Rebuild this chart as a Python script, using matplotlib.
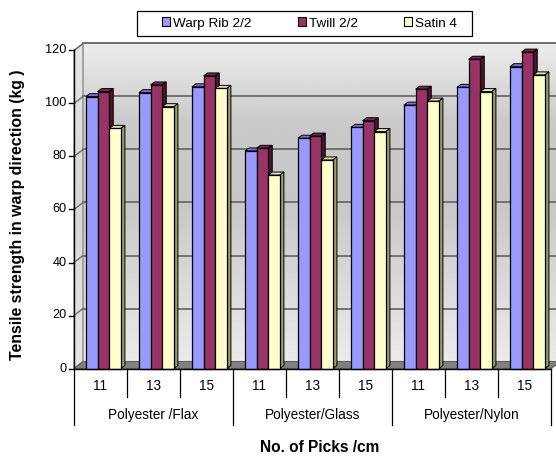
import numpy as np
import matplotlib
matplotlib.use("Agg")
import matplotlib.pyplot as plt
from matplotlib.patches import Polygon, Patch, Rectangle

plt.rcParams['font.family'] = ['Liberation Sans', 'DejaVu Sans']

# ---- data -------------------------------------------------------------
groups = ["Polyester /Flax", "Polyester/Glass", "Polyester/Nylon"]
picks = ["11", "13", "15"]
series_names = ["Warp Rib 2/2", "Twill 2/2", "Satin 4"]
warp_rib = [102.6, 104.1, 106.3, 82.1, 86.9, 91.0, 99.4, 106.1, 113.9]
twill = [104.5, 107.0, 110.4, 83.1, 87.7, 93.5, 105.4, 116.7, 119.4]
satin = [90.6, 98.8, 105.7, 73.0, 78.7, 89.4, 100.9, 104.5, 110.8]
y_ticks = [0, 20, 40, 60, 80, 100, 120]

series = [warp_rib, twill, satin]
front_cols = ["#9999FF", "#993366", "#FFFFCC"]
top_cols = ["#7373d6", "#7a2650", "#e3e3b0"]
side_cols = ["#5c5c9e", "#4f1332", "#9a9a6c"]

# ---- figure: one full-size axes, 53 px per category slot, 2.65 px per unit
W, H = 556, 457
fig = plt.figure(figsize=(W / 100, H / 100), dpi=100)
ax = fig.add_axes([0, 0, 1, 1])
x0px, y0px, sx, sy = 74.0, 368.5, 53.0, 2.65
ax.set_xlim((0 - x0px) / sx, (W - x0px) / sx)
ax.set_ylim((y0px - H) / sy, y0px / sy)
ax.axis("off")

n = len(warp_rib)
ymax = 120
dx, dy = 9 / sx, 7 / sy          # wall depth
bdx, bdy = 4 / sx, 3 / sy        # bar depth

# back wall with vertical gradient
levels = np.linspace(0, 1, 256)
shade = np.interp(levels, [0, 0.25, 0.5, 0.75, 1.0], [0.92, 0.85, 0.78, 0.79, 0.93])
img = np.repeat(shade[:, None], 2, axis=1)
back = Polygon([(dx, dy), (n + dx, dy), (n + dx, ymax + dy), (dx, ymax + dy)],
               closed=True, facecolor="none", edgecolor="#a0a0a0", lw=1.2, zorder=1)
ax.add_patch(back)
im = ax.imshow(img, cmap="gray", vmin=0, vmax=1, origin="lower", aspect="auto",
               extent=[dx, n + dx, dy, ymax + dy], zorder=0.5, interpolation="bilinear")
im.set_clip_path(back)

# left side wall
side = Polygon([(0, 0), (dx, dy), (dx, ymax + dy), (0, ymax)], closed=True,
               facecolor="none", edgecolor="#a0a0a0", lw=1.0, zorder=1)
ax.add_patch(side)
shade2 = np.interp(levels, [0, 0.5, 1.0], [0.90, 0.84, 0.90])
im2 = ax.imshow(np.repeat(shade2[:, None], 2, axis=1), cmap="gray", vmin=0, vmax=1,
                origin="lower", aspect="auto", extent=[0, dx, 0, ymax + dy],
                zorder=0.5, interpolation="bilinear")
im2.set_clip_path(side)

# gridlines on walls
for v in y_ticks[1:]:
    ax.plot([dx, n + dx], [v + dy, v + dy], color="#6a6a6a", lw=1.3, zorder=1.5)
    ax.plot([0, dx], [v, v + dy], color="#6a6a6a", lw=1.0, zorder=1.5)

# floor
ax.add_patch(Polygon([(0, 0), (n, 0), (n + dx, dy), (dx, dy)], closed=True,
                     facecolor="#808080", edgecolor="#606060", lw=0.8, zorder=2))

# bars with top and side faces
bw = 0.22
first = 0.225
xs = np.arange(n)
for k, (vals, fc, tc, sc) in enumerate(zip(series, front_cols, top_cols, side_cols)):
    left = xs + first + k * bw
    z = 3 + k
    ax.bar(left, vals, width=bw, align="edge", color=fc, edgecolor="black",
           lw=0.9, zorder=z + 0.2)
    for xl, v in zip(left, vals):
        ax.add_patch(Polygon([(xl, v), (xl + bw, v), (xl + bw + bdx, v + bdy),
                              (xl + bdx, v + bdy)], closed=True, facecolor=tc,
                             edgecolor="black", lw=0.7, zorder=z))
        ax.add_patch(Polygon([(xl + bw, 0), (xl + bw + bdx, bdy),
                              (xl + bw + bdx, v + bdy), (xl + bw, v)], closed=True,
                             facecolor=sc, edgecolor="black", lw=0.7, zorder=z))

# value axis
ax.plot([0, 0], [0, ymax], color="black", lw=1.0, zorder=10)
tick_len = 5 / sx
for v in y_ticks:
    ax.plot([-tick_len, 0], [v, v], color="black", lw=1.0, zorder=10)
    ax.text(-tick_len - 2.5 / sx, v, str(v), ha="right", va="center", fontsize=9.2,
            color="black")

# category axis with two-level labels
ax.plot([0, n], [0, 0], color="black", lw=1.0, zorder=10)
ax.plot([n, n + dx], [0, dy], color="#606060", lw=0.8, zorder=10)
short_len = (397 - y0px) / sy
long_len = (425 - y0px) / sy
for i in range(n + 1):
    depth = long_len if i % 3 == 0 else short_len
    ax.plot([i, i], [0, -depth], color="black", lw=0.9, zorder=10)
for i in range(n):
    ax.text(i + 0.5, -(386 - y0px) / sy, picks[i % 3], ha="center", va="center",
            fontsize=9.8)
for g, name in enumerate(groups):
    ax.text(3 * g + 1.5, -(415 - y0px) / sy, name, ha="center", va="center",
            fontsize=9.8)

# axis titles
ax.text((320 - x0px) / sx, -(448 - y0px) / sy, "No. of Picks /cm", ha="center",
        va="center", fontsize=11.2, fontweight="bold")
ax.text((18 - x0px) / sx, (y0px - 215) / sy, "Tensile strength in warp direction (kg )",
        ha="center", va="center", rotation=90, fontsize=11.4, fontweight="bold")

# legend: plain box with the entries inset from the left
fig.add_artist(Rectangle((137 / W, 1 - 36 / H), 335 / W, 25 / H,
                         transform=fig.transFigure, facecolor="white",
                         edgecolor="black", lw=0.9, zorder=20))
handles = [Patch(facecolor=c, edgecolor="black", lw=0.8) for c in front_cols]
leg = fig.legend(handles, series_names, loc="center left", ncol=3,
                 bbox_to_anchor=(162 / W, 1 - 23.5 / H), fontsize=9.7,
                 frameon=False, handlelength=0.6, handleheight=0.6,
                 handletextpad=0.25, columnspacing=3.4, borderpad=0,
                 borderaxespad=0)
leg.set_zorder(21)

fig.savefig("out.png", dpi=100)
